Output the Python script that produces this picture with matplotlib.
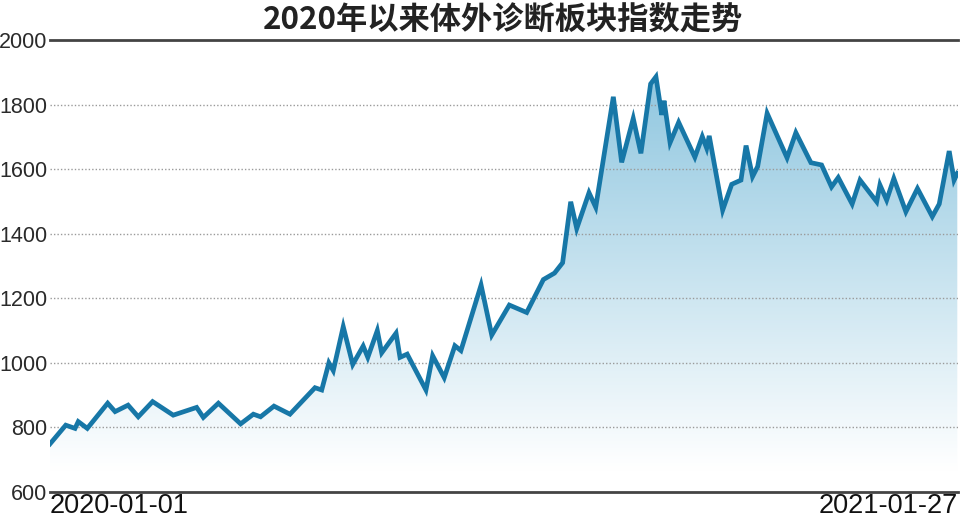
import numpy as np
import matplotlib
matplotlib.use("Agg")
import matplotlib.pyplot as plt
from matplotlib.colors import LinearSegmentedColormap

# ---- data (days since 2020-01-01, index value) ----
days = [0.0, 6.8, 10.8, 12.2, 16.1, 24.9, 28.1, 33.7, 38.1, 44.3, 53.2, 63.3, 66.2, 72.7,
        82.3, 87.8, 90.9, 96.7, 103.6, 114.4, 117.3, 120.4, 122.3, 126.6, 130.7, 135.2,
        137.2, 141.3, 143.2, 149.4, 151.1, 154.2, 162.3, 165.2, 170.2, 174.8, 177.4,
        186.1, 190.7, 198.3, 205.8, 213.0, 217.8, 221.3, 224.8, 227.4, 232.7, 235.6,
        243.2, 246.8, 251.8, 255.1, 259.3, 261.6, 264.1, 265.1, 267.7, 271.4, 278.4,
        281.6, 283.5, 284.6, 290.4, 294.3, 298.3, 300.5, 303.3, 305.5, 309.6, 318.2,
        322.0, 328.5, 333.1, 337.4, 340.3, 346.3, 349.7, 356.9, 358.3, 361.2, 364.3,
        369.5, 374.5, 380.9, 383.9, 388.2, 390.3, 391.7]
values = [749, 807, 797, 818, 797, 875, 849, 869, 833, 880, 838, 862, 831, 875,
          811, 841, 833, 866, 841, 923, 916, 1000, 976, 1112, 995, 1052,
          1017, 1100, 1031, 1092, 1017, 1027, 916, 1022, 954, 1053, 1038,
          1241, 1086, 1179, 1156, 1258, 1278, 1310, 1499, 1416, 1527, 1482,
          1824, 1621, 1757, 1649, 1864, 1886, 1768, 1812, 1682, 1745, 1637,
          1701, 1665, 1703, 1473, 1553, 1566, 1673, 1577, 1608, 1773, 1635,
          1713, 1620, 1613, 1545, 1574, 1492, 1566, 1499, 1551, 1504, 1571,
          1468, 1540, 1453, 1492, 1656, 1566, 1587]
y_ticks = [600, 800, 1000, 1200, 1400, 1600, 1800, 2000]
x_labels = ["2020-01-01", "2021-01-27"]
x_label_pos = [0, 392]
title = "2020年以来体外诊断板块指数走势"

LINE = "#1777a7"
TXT = "#2a2a2a"
NUMFONT = "Liberation Sans"

fig = plt.figure(figsize=(9.6, 5.19), dpi=100)
ax = fig.add_axes([50/960, 27/519, 908/960, 452/519])
ax.set_xlim(0, 392)
ax.set_ylim(600, 2000)

# gradient fill under the line
poly = ax.fill_between(days, values, 600, color="none", lw=0)
grad = np.linspace(0, 1, 256).reshape(-1, 1)
img = ax.imshow(grad, extent=[0, 392, 600, 1950], origin="lower", aspect="auto",
                cmap=LinearSegmentedColormap.from_list("g", [(0, "#ffffff"), (0.05, "#ffffff"), (1, "#8ac4de")]),
                zorder=1)
img.set_clip_path(poly.get_paths()[0], transform=ax.transData)

for yv in y_ticks[1:-1]:
    ax.axhline(yv, color="#9a9a9a", lw=1.0, ls=(0, (1, 1.5)), zorder=2)
ax.axhline(2000, color="#444444", lw=2.0, zorder=3, clip_on=False)
ax.axhline(600, color="#444444", lw=2.0, zorder=3, clip_on=False)

ax.plot(days, values, color=LINE, lw=3.4, solid_joinstyle="miter", zorder=4)

for s in ax.spines.values():
    s.set_visible(False)
ax.set_yticks(y_ticks)
ax.set_yticklabels([str(v) for v in y_ticks], fontsize=15.5, color=TXT, family=NUMFONT)
ax.tick_params(axis="y", length=0, pad=2)
ax.set_xticks(x_label_pos)
ax.set_xticklabels(x_labels, fontsize=19.5, color="#111111", family=NUMFONT)
ax.tick_params(axis="x", length=0, pad=1)
xl = ax.get_xticklabels()
xl[0].set_ha("left")
xl[1].set_ha("right")

fig.text(0.524, 0.962, title, ha="center", va="center", fontsize=22.5, fontweight="bold",
         color="#222222", family=["Noto Sans CJK SC", "DejaVu Sans"])

fig.savefig("out.png", dpi=100)
